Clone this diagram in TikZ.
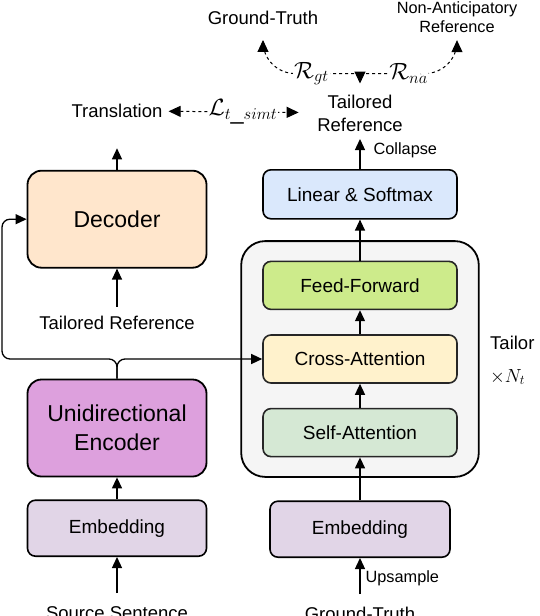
\RequirePackage{fix-cm}
\documentclass[tikz,border=0pt]{standalone}
\usepackage{fontspec}
\setmainfont{Liberation Sans}
\usepackage{tikz}
\usetikzlibrary{positioning, fit, calc, backgrounds, arrows.meta}

\definecolor{decfill}{HTML}{FFE6CC}
\definecolor{encfill}{HTML}{DDA0DD}
\definecolor{embfill}{HTML}{E1D5E7}
\definecolor{linfill}{HTML}{DAE8FC}
\definecolor{fffill}{HTML}{CDEB8B}
\definecolor{cafill}{HTML}{FFF2CC}
\definecolor{safill}{HTML}{D5E8D4}
\definecolor{tailorfill}{HTML}{F5F5F5}

\begin{document}
\begin{tikzpicture}[
        x=1pt, y=-1pt,
        node distance=24pt,
        bigbox/.style={rectangle, draw, line width=1.8pt, rounded corners=14pt, minimum width=179pt, minimum height=97pt, align=center, font=\fontsize{23}{29}\selectfont},
        box/.style={rectangle, draw=black!85, line width=1.6pt, rounded corners=8pt, minimum width=194pt, minimum height=48pt, align=center, font=\fontsize{19}{23}\selectfont},
        tailor/.style={rectangle, draw, line width=1.8pt, rounded corners=24pt, fill=tailorfill},
        txt/.style={inner sep=1pt, align=center, font=\fontsize{18.5}{23}\selectfont},
        small/.style={inner sep=1pt, align=center, font=\fontsize{16.3}{19}\selectfont},
        mathlbl/.style={fill=white, inner sep=1pt, font=\fontsize{23.5}{25}\selectfont},
        arrow/.style={line width=1.3pt, ->, >={Triangle[length=11pt,width=10pt]}},
        dasharrow/.style={line width=1pt, dash pattern=on 3pt off 3pt, ->, >={Triangle[length=12pt,width=11pt]}}
    ]
    \useasboundingbox (0,0) rectangle (540,616);

    \node[bigbox, fill=encfill] (enc) at (117,428) {Unidirectional\\Encoder};
    \node[bigbox, fill=decfill, above=110pt of enc] (dec) {Decoder};
    \node[box, draw=black, fill=embfill, minimum width=179pt, minimum height=56pt, below=22pt of enc] (embl) {Embedding};
    \node[txt, below=46pt of dec] (trefl) {Tailored Reference};
    \node[txt, above=51pt of dec] (trans) {Translation};
    \node[txt, below=48pt of embl] (src) {Source Sentence};

    \node[box, fill=cafill] (ca) at (360,359) {Cross-Attention};
    \node[box, fill=fffill, above=of ca] (ff) {Feed-Forward};
    \node[box, fill=safill, below=of ca] (sa) {Self-Attention};
    \node[box, draw=black, fill=linfill, minimum height=49pt, above=41pt of ff] (lin) {Linear \& Softmax};
    \begin{scope}[on background layer]
        \node[tailor, fit=(ff)(sa), inner xsep=21pt, inner ysep=19.5pt] (tailorblk) {};
    \end{scope}
    \node[box, draw=black, fill=embfill, minimum width=180pt, minimum height=56pt, below=43pt of sa] (embr) {Embedding};
    \node[txt, below=48pt of embr] (gtb) {Ground-Truth};
    \node[txt, above=36.5pt of lin] (tref) {Tailored\\Reference};

    \node[txt, anchor=west] (tailorlbl) at (489,343) {Tailor};
    \node[inner sep=1pt, anchor=west, font=\fontsize{19}{21}\selectfont] (reps) at (489,377) {$\times N_t$};

    \node[txt] (gt) at (263,18) {Ground-Truth};
    \node[small] (na) at (457,17.5) {Non-Anticipatory\\Reference};
    \coordinate[yshift=20pt] (split) at (tref.north);

    \draw[arrow, shorten <=12pt] (src) -- (embl);
    \draw[arrow] (embl) -- (enc);
    \draw[arrow, shorten <=8pt] (trefl) -- (dec);
    \draw[arrow, shorten >=29.5pt] (dec) -- (trans);
    \draw[arrow, rounded corners=8pt] (enc.north) -- (enc.north |- ca.west) -- (2,359) |- (dec.west);
    \draw[arrow, rounded corners=8pt] (enc.north) -- (enc.north |- ca.west) -- (ca.west);

    \draw[arrow, shorten <=12pt] (gtb) -- node[small, right=4pt, pos=0.57] {Upsample} (embr);
    \draw[arrow] (embr) -- (sa);
    \draw[arrow] (sa) -- (ca);
    \draw[arrow] (ca) -- (ff);
    \draw[arrow] (ff) -- (lin);
    \draw[arrow, shorten >=6.5pt] (lin) -- node[small, right=12pt] {Collapse} (tref);

    \draw[dasharrow, <->, shorten <=5pt, shorten >=17.5pt] (trans) -- node[mathlbl, pos=0.52] {$\mathcal{L}_{t\_simt}$} (tref);
    \draw[dasharrow, shorten >=10pt] (split) -- (tref);
    \draw[dasharrow, rounded corners=32pt, shorten >=14pt] (split) -| node[mathlbl, pos=0.25] {$\mathcal{R}_{gt}$} (gt);
    \draw[dasharrow, rounded corners=32pt, shorten >=6pt] (split) -| node[mathlbl, pos=0.25] {$\mathcal{R}_{na}$} (na);
\end{tikzpicture}
\end{document}
